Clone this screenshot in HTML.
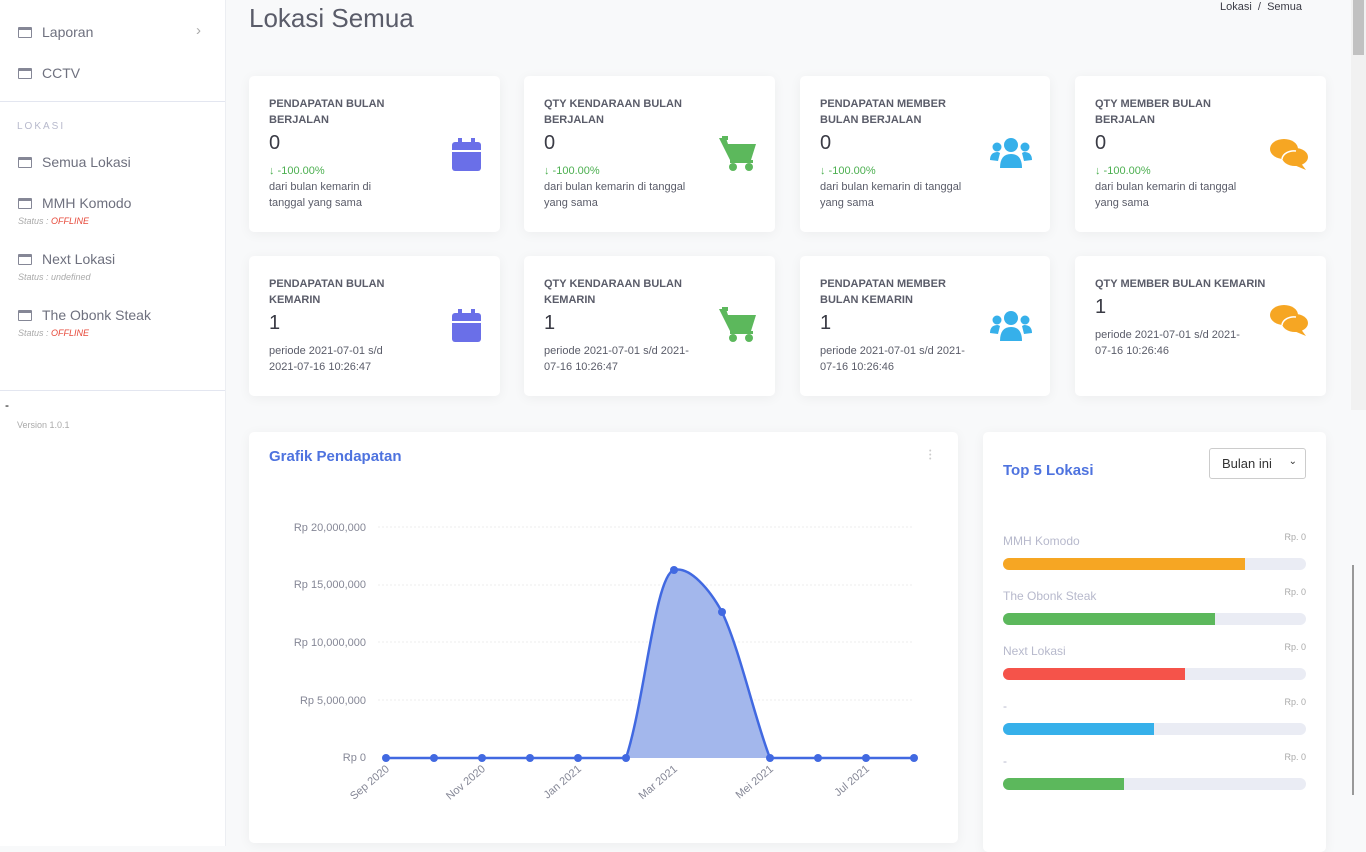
<!DOCTYPE html>
<html><head><meta charset="utf-8"><style>
*{box-sizing:border-box;margin:0;padding:0}
body{width:1366px;height:846px;overflow:hidden;background:#f8f9fa;font-family:"Liberation Sans",sans-serif;position:relative;color:#5a5c69}
.sb{position:absolute;left:0;top:0;width:226px;height:846px;background:#fff;border-right:1px solid #eceef2}
.ni{position:absolute;left:18px;font-size:14px;color:#6e707e}
.ni i{display:inline-block;width:14px;height:11px;border:1.5px solid #858796;border-top-width:3px;border-radius:1px;margin-right:10px;vertical-align:-1px}
.st{position:absolute;left:18px;font-size:9px;font-style:italic;color:#aaa}
.st b{color:#e74a3b;font-weight:normal}
.card{position:absolute;background:#fff;border-radius:5px;box-shadow:0 2px 12px rgba(0,0,0,.05)}
.t{position:absolute;left:20px;top:20px;font-size:11px;font-weight:bold;color:#5a5c69;line-height:16px;width:140px}
.v{position:absolute;left:20px;font-size:20px;color:#3a3b45}
.p{position:absolute;left:20px;font-size:11px;color:#5a5c69;line-height:16px;width:150px}
.g{color:#4caf50}
.ic{position:absolute;right:18px}
</style></head><body>
<div class="sb">
<div class="ni" style="top:24px"><i></i>Laporan</div>
<div style="position:absolute;left:196px;top:22px;color:#aaa;font-size:15px">&#8250;</div>
<div class="ni" style="top:65px"><i></i>CCTV</div>
<div style="position:absolute;left:0;top:101px;width:225px;border-top:1px solid #e3e6f0"></div>
<div style="position:absolute;left:17px;top:121px;font-size:10px;letter-spacing:2px;color:#b7b9cc">LOKASI</div>
<div class="ni" style="top:154px"><i></i>Semua Lokasi</div>
<div class="ni" style="top:195px"><i></i>MMH Komodo</div><div class="st" style="top:216px">Status : <b>OFFLINE</b></div>
<div class="ni" style="top:251px"><i></i>Next Lokasi</div><div class="st" style="top:272px">Status : undefined</div>
<div class="ni" style="top:307px"><i></i>The Obonk Steak</div><div class="st" style="top:328px">Status : <b>OFFLINE</b></div>
<div style="position:absolute;left:0;top:390px;width:225px;border-top:1px solid #e3e6f0"></div>
<div style="position:absolute;left:5px;top:398px;font-size:12px;color:#000">-</div>
<div style="position:absolute;left:17px;top:420px;font-size:9px;color:#aaa">Version 1.0.1</div>
</div>
<div style="position:absolute;left:249px;top:3px;font-size:26px;color:#5a5c69">Lokasi Semua</div>
<div style="position:absolute;left:1220px;top:1px;font-size:11px;color:#3a3b45">Lokasi &nbsp;/ &nbsp;Semua</div>
<div style="position:absolute;left:1351px;top:0;width:15px;height:410px;background:#f1f1f1"></div>
<div style="position:absolute;left:1353px;top:0;width:11px;height:55px;background:#c1c1c1"></div>
<div style="position:absolute;left:1352px;top:565px;width:2px;height:230px;background:#999"></div>

<!-- row1 -->
<div class="card" style="left:249px;top:76px;width:251px;height:156px"><div class="t">PENDAPATAN BULAN BERJALAN</div><div class="v" style="top:56px">0</div><div class="p" style="top:87px;width:130px"><span class="g">&#8595; -100.00%</span><br>dari bulan kemarin di tanggal yang sama</div>
<svg class="ic" style="top:62px" width="30" height="34" viewBox="0 0 30 34"><rect x="0" y="4" width="29" height="29" rx="3" fill="#6a6fe8"/><rect x="0" y="12" width="29" height="2" fill="#fff"/><rect x="6" y="0" width="4" height="8" fill="#6a6fe8"/><rect x="19" y="0" width="4" height="8" fill="#6a6fe8"/></svg></div>
<div class="card" style="left:524px;top:76px;width:251px;height:156px"><div class="t">QTY KENDARAAN BULAN BERJALAN</div><div class="v" style="top:56px">0</div><div class="p" style="top:87px"><span class="g">&#8595; -100.00%</span><br>dari bulan kemarin di tanggal yang sama</div>
<svg class="ic" style="top:60px" width="38" height="36" viewBox="0 0 38 36"><path d="M0 2h7l2 6h28l-5 16H11z" fill="#5cb85c"/><rect x="3" y="0" width="6" height="4" fill="#5cb85c"/><circle cx="14" cy="31" r="4" fill="#5cb85c"/><circle cx="30" cy="31" r="4" fill="#5cb85c"/><rect x="11" y="24" width="23" height="3" fill="#5cb85c"/></svg></div>
<div class="card" style="left:800px;top:76px;width:250px;height:156px"><div class="t">PENDAPATAN MEMBER BULAN BERJALAN</div><div class="v" style="top:56px">0</div><div class="p" style="top:87px"><span class="g">&#8595; -100.00%</span><br>dari bulan kemarin di tanggal yang sama</div>
<svg class="ic" style="top:62px" width="42" height="30" viewBox="0 0 42 30"><circle cx="21" cy="7" r="7" fill="#36b0ea"/><path d="M10 30q0-14 11-14t11 14z" fill="#36b0ea"/><circle cx="7" cy="9" r="4.5" fill="#36b0ea"/><circle cx="35" cy="9" r="4.5" fill="#36b0ea"/><path d="M0 22q0-8 8-8l2 1-2 8z" fill="#36b0ea"/><path d="M42 22q0-8-8-8l-2 1 2 8z" fill="#36b0ea"/></svg></div>
<div class="card" style="left:1075px;top:76px;width:251px;height:156px"><div class="t">QTY MEMBER BULAN BERJALAN</div><div class="v" style="top:56px">0</div><div class="p" style="top:87px"><span class="g">&#8595; -100.00%</span><br>dari bulan kemarin di tanggal yang sama</div>
<svg class="ic" style="top:62px" width="38" height="32" viewBox="0 0 38 32"><ellipse cx="14" cy="11" rx="14" ry="10" fill="#f6a623"/><ellipse cx="25" cy="19" rx="13" ry="9" fill="#f6a623"/><path d="M30 24l6 8-12-5z" fill="#f6a623"/><path d="M26 13a12 9 0 0 0-14 8" stroke="#fff" stroke-width="1.5" fill="none"/></svg></div>

<!-- row2 -->
<div class="card" style="left:249px;top:256px;width:251px;height:140px"><div class="t">PENDAPATAN BULAN KEMARIN</div><div class="v" style="top:56px">1</div><div class="p" style="top:87px;width:140px">periode 2021-07-01 s/d 2021-07-16 10:26:47</div>
<svg class="ic" style="top:53px" width="30" height="34" viewBox="0 0 30 34"><rect x="0" y="4" width="29" height="29" rx="3" fill="#6a6fe8"/><rect x="0" y="12" width="29" height="2" fill="#fff"/><rect x="6" y="0" width="4" height="8" fill="#6a6fe8"/><rect x="19" y="0" width="4" height="8" fill="#6a6fe8"/></svg></div>
<div class="card" style="left:524px;top:256px;width:251px;height:140px"><div class="t">QTY KENDARAAN BULAN KEMARIN</div><div class="v" style="top:56px">1</div><div class="p" style="top:87px;width:160px">periode 2021-07-01 s/d 2021-07-16 10:26:47</div>
<svg class="ic" style="top:51px" width="38" height="36" viewBox="0 0 38 36"><path d="M0 2h7l2 6h28l-5 16H11z" fill="#5cb85c"/><rect x="3" y="0" width="6" height="4" fill="#5cb85c"/><circle cx="14" cy="31" r="4" fill="#5cb85c"/><circle cx="30" cy="31" r="4" fill="#5cb85c"/><rect x="11" y="24" width="23" height="3" fill="#5cb85c"/></svg></div>
<div class="card" style="left:800px;top:256px;width:250px;height:140px"><div class="t">PENDAPATAN MEMBER BULAN KEMARIN</div><div class="v" style="top:56px">1</div><div class="p" style="top:87px;width:160px">periode 2021-07-01 s/d 2021-07-16 10:26:46</div>
<svg class="ic" style="top:55px" width="42" height="30" viewBox="0 0 42 30"><circle cx="21" cy="7" r="7" fill="#36b0ea"/><path d="M10 30q0-14 11-14t11 14z" fill="#36b0ea"/><circle cx="7" cy="9" r="4.5" fill="#36b0ea"/><circle cx="35" cy="9" r="4.5" fill="#36b0ea"/><path d="M0 22q0-8 8-8l2 1-2 8z" fill="#36b0ea"/><path d="M42 22q0-8-8-8l-2 1 2 8z" fill="#36b0ea"/></svg></div>
<div class="card" style="left:1075px;top:256px;width:251px;height:140px"><div class="t" style="width:200px">QTY MEMBER BULAN KEMARIN</div><div class="v" style="top:40px">1</div><div class="p" style="top:71px;width:160px">periode 2021-07-01 s/d 2021-07-16 10:26:46</div>
<svg class="ic" style="top:48px" width="38" height="32" viewBox="0 0 38 32"><ellipse cx="14" cy="11" rx="14" ry="10" fill="#f6a623"/><ellipse cx="25" cy="19" rx="13" ry="9" fill="#f6a623"/><path d="M30 24l6 8-12-5z" fill="#f6a623"/><path d="M26 13a12 9 0 0 0-14 8" stroke="#fff" stroke-width="1.5" fill="none"/></svg></div>

<!-- chart -->
<div class="card" style="left:249px;top:432px;width:709px;height:411px"></div>
<div style="position:absolute;left:269px;top:448px;font-size:15px;font-weight:bold;color:#4e73df">Grafik Pendapatan</div>
<div style="position:absolute;left:929px;top:450px;width:3px;line-height:4px;font-size:7px;color:#ccc">•<br>•<br>•</div>
<svg style="position:absolute;left:0;top:0" width="1366" height="846">
<g stroke="#eee" stroke-dasharray="2,2" stroke-width="1">
<line x1="378" y1="527" x2="914" y2="527"/><line x1="378" y1="585" x2="914" y2="585"/><line x1="378" y1="642" x2="914" y2="642"/><line x1="378" y1="700" x2="914" y2="700"/></g>
<g font-family="Liberation Sans" font-size="11" fill="#858796" text-anchor="end">
<text x="366" y="531">Rp 20,000,000</text><text x="366" y="588">Rp 15,000,000</text><text x="366" y="646">Rp 10,000,000</text><text x="366" y="704">Rp 5,000,000</text><text x="366" y="761">Rp 0</text></g>
<path d="M626,758 C645,700 655,575 674,570 C690,566 710,590 722,612 C740,650 755,720 770,758 Z" fill="#a3b7ec"/>
<path d="M386,758 L626,758 C645,700 655,575 674,570 C690,566 710,590 722,612 C740,650 755,720 770,758 L914,758" fill="none" stroke="#4169e1" stroke-width="2.5"/>
<g fill="#4169e1"><circle cx="386" cy="758" r="4"/><circle cx="434" cy="758" r="4"/><circle cx="482" cy="758" r="4"/><circle cx="530" cy="758" r="4"/><circle cx="578" cy="758" r="4"/><circle cx="626" cy="758" r="4"/><circle cx="674" cy="570" r="4"/><circle cx="722" cy="612" r="4"/><circle cx="770" cy="758" r="4"/><circle cx="818" cy="758" r="4"/><circle cx="866" cy="758" r="4"/><circle cx="914" cy="758" r="4"/></g>
<g font-family="Liberation Sans" font-size="11" fill="#858796" text-anchor="end">
<text transform="translate(390,770) rotate(-40)">Sep 2020</text>
<text transform="translate(486,770) rotate(-40)">Nov 2020</text>
<text transform="translate(582,770) rotate(-40)">Jan 2021</text>
<text transform="translate(678,770) rotate(-40)">Mar 2021</text>
<text transform="translate(774,770) rotate(-40)">Mei 2021</text>
<text transform="translate(870,770) rotate(-40)">Jul 2021</text></g>
</svg>

<!-- top5 -->
<div class="card" style="left:983px;top:432px;width:343px;height:420px"></div>
<div style="position:absolute;left:1003px;top:462px;font-size:15px;font-weight:bold;color:#4e73df">Top 5 Lokasi</div>
<div style="position:absolute;left:1209px;top:448px;width:97px;height:31px;border:1px solid #ccc;border-radius:3px;font-size:13px;color:#333;padding:7px 0 0 12px;background:#fff">Bulan ini <span style="position:absolute;right:8px;top:7px;font-size:10px">&#8964;</span></div>
<div style="position:absolute;left:1003px;width:303px;top:532px">
<div style="position:relative;height:55px"><span style="font-size:12px;color:#b7b9cc">MMH Komodo</span><span style="position:absolute;right:0;top:0;font-size:9px;color:#aaa">Rp. 0</span><div style="position:absolute;top:26px;left:0;width:303px;height:12px;border-radius:6px;background:#eaecf4"><div style="width:242px;height:12px;border-radius:6px 0 0 6px;background:#f6a623"></div></div></div>
<div style="position:relative;height:55px"><span style="font-size:12px;color:#b7b9cc">The Obonk Steak</span><span style="position:absolute;right:0;top:0;font-size:9px;color:#aaa">Rp. 0</span><div style="position:absolute;top:26px;left:0;width:303px;height:12px;border-radius:6px;background:#eaecf4"><div style="width:212px;height:12px;border-radius:6px 0 0 6px;background:#5cb85c"></div></div></div>
<div style="position:relative;height:55px"><span style="font-size:12px;color:#b7b9cc">Next Lokasi</span><span style="position:absolute;right:0;top:0;font-size:9px;color:#aaa">Rp. 0</span><div style="position:absolute;top:26px;left:0;width:303px;height:12px;border-radius:6px;background:#eaecf4"><div style="width:182px;height:12px;border-radius:6px 0 0 6px;background:#f5534a"></div></div></div>
<div style="position:relative;height:55px"><span style="font-size:12px;color:#b7b9cc">-</span><span style="position:absolute;right:0;top:0;font-size:9px;color:#aaa">Rp. 0</span><div style="position:absolute;top:26px;left:0;width:303px;height:12px;border-radius:6px;background:#eaecf4"><div style="width:151px;height:12px;border-radius:6px 0 0 6px;background:#36b0ea"></div></div></div>
<div style="position:relative;height:55px"><span style="font-size:12px;color:#b7b9cc">-</span><span style="position:absolute;right:0;top:0;font-size:9px;color:#aaa">Rp. 0</span><div style="position:absolute;top:26px;left:0;width:303px;height:12px;border-radius:6px;background:#eaecf4"><div style="width:121px;height:12px;border-radius:6px 0 0 6px;background:#5cb85c"></div></div></div>
</div>
</body></html>
